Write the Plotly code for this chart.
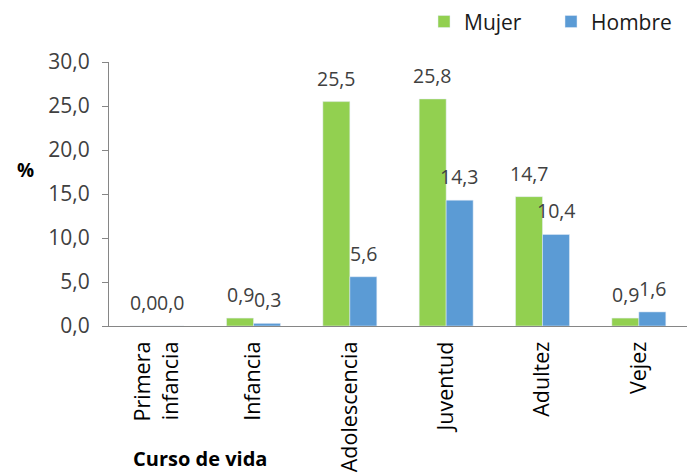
import plotly.graph_objects as go

# Curso de vida categories and percentages by sex
categorias = ["Primera<br>infancia", "Infancia", "Adolescencia", "Juventud", "Adultez", "Vejez"]
mujer = [0.0, 0.9, 25.5, 25.8, 14.7, 0.9]
hombre = [0.0, 0.3, 5.6, 14.3, 10.4, 1.6]
y_ticks = [0, 5, 10, 15, 20, 25, 30]

VERDE = "#92D050"
AZUL = "#5B9BD5"
TEXTO = "#404040"
FUENTE = "Open Sans"

def fmt(v):
    return f"{v:.1f}".replace(".", ",")

fig = go.Figure()
fig.add_trace(go.Bar(name="Mujer", x=categorias, y=mujer, marker_color=VERDE))
fig.add_trace(go.Bar(name="Hombre", x=categorias, y=hombre, marker_color=AZUL))

# Value labels above each bar
for valores, desplaz in ((mujer, -13.5), (hombre, 13.5)):
    for cat, v in zip(categorias, valores):
        fig.add_annotation(x=cat, y=v, text=fmt(v), showarrow=False,
                           xshift=desplaz, yshift=8, yanchor="bottom",
                           font=dict(family=FUENTE, size=19.5, color=TEXTO))

# Axis titles
fig.add_annotation(text="<b>Curso de vida</b>", x=0.158, y=-0.502, xref="paper", yref="paper",
                   xanchor="center", yanchor="middle", showarrow=False,
                   font=dict(family=FUENTE, size=20, color="#000000"))
fig.add_annotation(text="<b>%</b>", x=-0.145, y=0.59, xref="paper", yref="paper",
                   xanchor="center", yanchor="middle", showarrow=False,
                   font=dict(family=FUENTE, size=19, color="#000000"))

fig.update_layout(
    width=687, height=474,
    margin=dict(l=109, r=0, t=62, b=148, autoexpand=False),
    paper_bgcolor="white", plot_bgcolor="white",
    barmode="group", bargap=0.44, bargroupgap=0,
    font=dict(family=FUENTE, size=18, color=TEXTO),
    legend=dict(orientation="h", x=0.545, y=1.152, xanchor="left", yanchor="middle",
                font=dict(family=FUENTE, size=21, color="#1a1a1a"),
                entrywidth=82, entrywidthmode="pixels", traceorder="normal"),
    showlegend=True,
)
fig.update_yaxes(range=[0, 30], tickvals=y_ticks, ticktext=[fmt(t) for t in y_ticks],
                 showgrid=False, zeroline=False, showline=True, linecolor="#868686",
                 ticks="outside", ticklen=6, tickcolor="#868686", ticklabelstandoff=8,
                 tickfont=dict(size=21, color=TEXTO))
fig.update_xaxes(showline=True, linecolor="#868686", tickangle=-90, ticks="",
                 ticklabelstandoff=6, tickfont=dict(size=21.5, color="#000000"))

fig.write_html("out.html")
